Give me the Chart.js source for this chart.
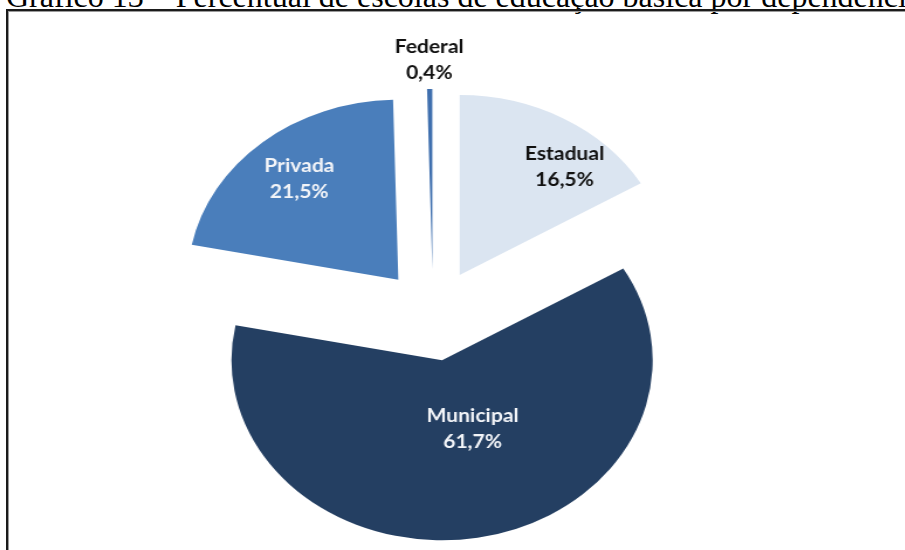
<!DOCTYPE html>
<html lang="pt-BR">
<head>
<meta charset="utf-8">
<title>Percentual de escolas de educação básica por dependência</title>
<script src="https://cdn.jsdelivr.net/npm/chart.js@4.4.1/dist/chart.umd.min.js"></script>
<style>
  html, body { margin: 0; padding: 0; background: #ffffff; overflow: hidden; }
  body { width: 905px; height: 550px; position: relative; }
  #caption {
    position: absolute; left: 6px; top: -20px;
    font-family: "Liberation Serif", "Times New Roman", serif;
    font-size: 32px; line-height: 32px; white-space: nowrap; color: #000;
  }
  #frame {
    position: absolute; left: 6px; top: 9px; width: 1200px; height: 800px;
    border-left: 2px solid #1b1b1b; border-top: 2px solid #1b1b1b;
    box-shadow: inset 1px 1px 0 #9a9a9a;
  }
  #pie {
    position: absolute; left: 63px; top: 0;
    transform: scaleX(1.17); transform-origin: 370px 0;
    filter: blur(0.5px);
  }
</style>
</head>
<body>
<div id="caption">Gráfico 13 – Percentual de escolas de educação básica por dependência administrativa</div>
<div id="frame"></div>
<canvas id="pie" width="740" height="550"></canvas>
<script>
// Share of basic-education schools by administrative dependency (%)
const categories = ['Estadual', 'Municipal', 'Privada', 'Federal'];
const shares = [16.5, 61.7, 21.5, 0.4];
const sliceColors = ['#dbe5f1', '#243f62', '#4a7ebb', '#3f6fae'];
const labelColors = ['#111111', '#f2f4f8', '#f2f4f8', '#111111'];

// where each label sits: extra turn from the slice's middle (deg) and reach as a fraction of the radius
const labelTurn = [10, -11, 0, 0];
const labelReach = [0.78, 0.41, 0.73, 1.16];

const PIE_RADIUS = 180;
const EXPLODE = 46; // distance every slice is pulled out of the centre

const formatShare = v => v.toFixed(1).replace('.', ',') + '%';

// pull every slice straight out along its middle angle, keeping radius and sweep unchanged
const explodeSlices = {
  id: 'explodeSlices',
  beforeDatasetsDraw(chart) {
    const area = chart.chartArea;
    const cx = (area.left + area.right) / 2;
    const cy = (area.top + area.bottom) / 2;
    chart.getDatasetMeta(0).data.forEach(arc => {
      const mid = (arc.startAngle + arc.endAngle) / 2;
      arc.x = cx + Math.cos(mid) * EXPLODE;
      arc.y = cy + Math.sin(mid) * EXPLODE;
    });
  }
};

const sliceLabels = {
  id: 'sliceLabels',
  afterDatasetsDraw(chart) {
    const ctx = chart.ctx;
    const meta = chart.getDatasetMeta(0);
    ctx.save();
    ctx.font = 'bold 18px Lato, "Open Sans", sans-serif';
    ctx.textAlign = 'center';
    ctx.textBaseline = 'middle';
    meta.data.forEach((arc, i) => {
      const mid = (arc.startAngle + arc.endAngle) / 2;
      const ang = mid + labelTurn[i] * Math.PI / 180;
      const r = labelReach[i] * arc.outerRadius;
      const lx = arc.x + Math.cos(ang) * r;
      const ly = arc.y + Math.sin(ang) * r;
      ctx.fillStyle = labelColors[i];
      ctx.fillText(categories[i], lx, ly - 13);
      ctx.fillText(formatShare(shares[i]), lx, ly + 13);
    });
    ctx.restore();
  }
};

new Chart(document.getElementById('pie'), {
  type: 'pie',
  data: {
    labels: categories,
    datasets: [{
      data: shares,
      backgroundColor: sliceColors,
      borderWidth: 0,
      radius: PIE_RADIUS
    }]
  },
  options: {
    responsive: false,
    animation: false,
    events: [],
    layout: { padding: { top: 80 } },
    plugins: {
      legend: { display: false },
      tooltip: { enabled: false }
    }
  },
  plugins: [explodeSlices, sliceLabels]
});
</script>
</body>
</html>
